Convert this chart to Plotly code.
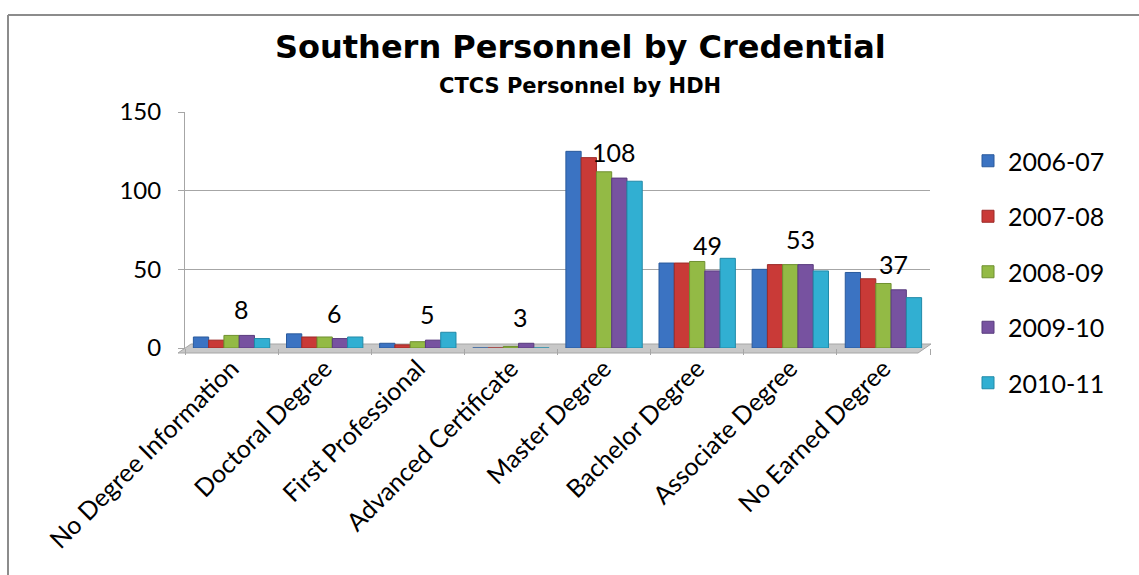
import plotly.graph_objects as go

categories = ["No Degree Information", "Doctoral Degree", "First Professional",
              "Advanced Certificate", "Master Degree", "Bachelor Degree",
              "Associate Degree", "No Earned Degree"]
years = ["2006-07", "2007-08", "2008-09", "2009-10", "2010-11"]

v_2006_07 = [7, 9, 3, 0, 125, 54, 50, 48]
v_2007_08 = [5, 7, 2, 0, 121, 54, 53, 44]
v_2008_09 = [8, 7, 4, 1, 112, 55, 53, 41]
v_2009_10 = [8, 6, 5, 3, 108, 49, 53, 37]
v_2010_11 = [6, 7, 10, 0, 106, 57, 49, 32]

series = [v_2006_07, v_2007_08, v_2008_09, v_2009_10, v_2010_11]
colors = ["#3b73c2", "#c93a37", "#93ba45", "#7752a0", "#31afd2"]
line_colors = ["#2a5a9c", "#9c2b28", "#6f9030", "#5a3c7e", "#218aa8"]

W, H = 1139, 575
ML, MR, MT, MB = 185, 209, 112, 227
pw, ph = W - ML - MR, H - MT - MB


def px_x(p):
    return (p - ML) / pw


def px_y(p):
    return 1 - (p - MT) / ph


fig = go.Figure()
for i, (yr, vals) in enumerate(zip(years, series)):
    fig.add_trace(go.Bar(
        x=categories, y=vals, name=yr, legendgroup=yr,
        marker=dict(color=colors[i], line=dict(color=line_colors[i], width=1)),
    ))

# value labels for the 2009-10 series
for cat, val in zip(categories, v_2009_10):
    fig.add_annotation(x=cat, y=val, text=str(val), showarrow=False,
                       xshift=10, yshift=26, yanchor="middle",
                       font=dict(family="Lato", size=25, color="#000000"))

# chart titles
fig.add_annotation(xref="paper", yref="paper", x=px_x(580), y=px_y(47),
                   yanchor="middle", xanchor="center",
                   text="<b>Southern Personnel by Credential</b>", showarrow=False,
                   font=dict(family="DejaVu Sans", size=32, color="#000000"))
fig.add_annotation(xref="paper", yref="paper", x=px_x(580), y=px_y(86),
                   yanchor="middle", xanchor="center",
                   text="<b>CTCS Personnel by HDH</b>", showarrow=False,
                   font=dict(family="DejaVu Sans", size=21, color="#000000"))

# outer frame (left and top edges)
fig.add_shape(type="line", xref="paper", yref="paper", x0=px_x(8), x1=px_x(8),
              y0=px_y(H + 5), y1=px_y(15), line=dict(color="#8c8c8c", width=2))
fig.add_shape(type="line", xref="paper", yref="paper", x0=px_x(8), x1=px_x(W + 5),
              y0=px_y(15), y1=px_y(15), line=dict(color="#8c8c8c", width=2))

# chart floor
fig.add_shape(type="path", xref="paper", yref="paper", layer="below",
              path=(f"M {px_x(178)},{px_y(353)} L {px_x(918)},{px_y(353)} "
                    f"L {px_x(931)},{px_y(344)} L {px_x(191)},{px_y(344)} Z"),
              fillcolor="#c8c8c8", line=dict(color="#a6a6a6", width=1))

fig.update_layout(
    width=W, height=H,
    margin=dict(l=ML, r=MR, t=MT, b=MB, autoexpand=False),
    paper_bgcolor="#ffffff", plot_bgcolor="rgba(0,0,0,0)",
    barmode="group", bargap=0.18, bargroupgap=0.0,
    showlegend=True,
    legend=dict(x=px_x(968), y=px_y(138), xanchor="left", yanchor="top",
                font=dict(family="Lato", size=25, color="#000000"),
                traceorder="grouped", tracegroupgap=20, maxheight=400,
                itemwidth=30, bgcolor="rgba(0,0,0,0)"),
    font=dict(family="Lato", color="#000000"),
)

fig.update_xaxes(
    showline=False,
    ticks="outside", tickson="boundaries", ticklen=6, tickcolor="#a6a6a6",
    tickangle=-45, tickfont=dict(family="Lato", size=25, color="#000000"),
    showgrid=False,
)
fig.update_yaxes(
    range=[0, 150], tickvals=[0, 50, 100, 150],
    showline=True, linecolor="#a6a6a6", linewidth=1,
    ticks="outside", ticklen=6, tickcolor="#a6a6a6",
    ticklabelstandoff=12,
    showgrid=True, gridcolor="#a6a6a6", gridwidth=1,
    zeroline=False,
    tickfont=dict(family="Lato", size=24, color="#000000"),
)

fig.write_html("out.html")
